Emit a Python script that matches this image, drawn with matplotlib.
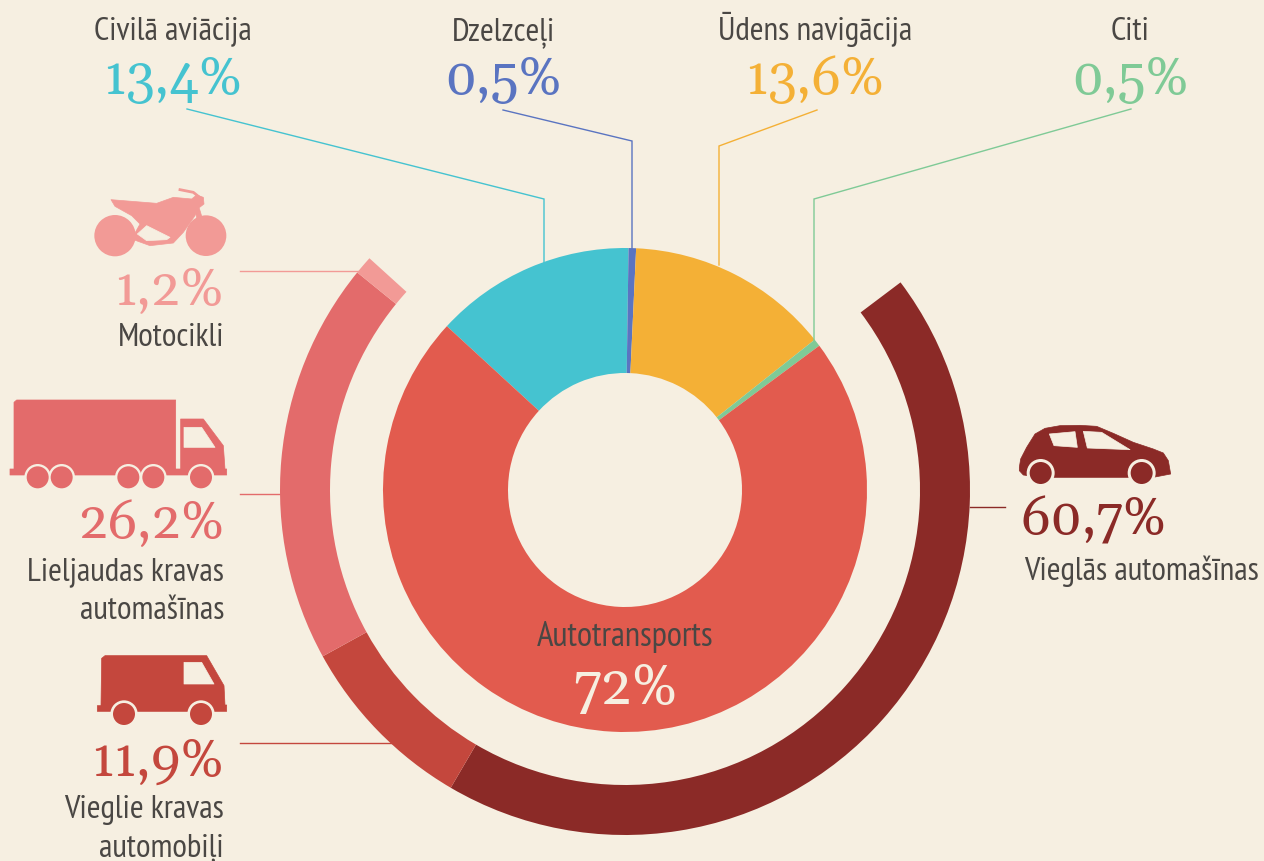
import matplotlib
from matplotlib import pyplot as plt
from matplotlib.patches import Circle, Polygon

matplotlib.use('Agg')

W, H = 1264, 862
BG = '#f6efe1'
DARK = '#4a4744'
NARROW = ['PT Sans Narrow', 'Liberation Sans']
SERIF = ['Gelasio', 'Liberation Serif']

# inner ring, share of all transport
mode_names = ['Civilā aviācija', 'Dzelzceļi', 'Ūdens navigācija', 'Citi', 'Autotransports']
mode_values = [13.4, 0.5, 13.6, 0.5, 72]
mode_colors = ['#45c3d0', '#5a74c1', '#f4b036', '#7fca96', '#e25b4e']

# outer ring, split of the road transport part
road_names = ['Vieglās automašīnas', 'Vieglie kravas\nautomobiļi', 'Lieljaudas kravas\nautomašīnas', 'Motocikli']
road_values = [60.7, 11.9, 26.2, 1.2]
road_colors = ['#8b2a27', '#c4473d', '#e36b6b', '#f29a96']

CX, CY = 625, 491


def fy(y):
    return H - y


def pct(v):
    if v == int(v):
        return f'{int(v)}%'
    return f'{v:.1f}'.replace('.', ',') + '%'


def label(x, y, s, ha='center', size=24):
    ax.text(x, fy(y), s, ha=ha, va='baseline', family=NARROW, fontsize=size, color=DARK, zorder=6)


def number(x, y, s, color, ha='center', size=38):
    ax.text(x, fy(y), s, ha=ha, va='baseline', family=SERIF, fontsize=size, color=color, zorder=6)


def leader(xs, ys, color):
    ax.plot(xs, [fy(y) for y in ys], color=color, lw=1.0, zorder=1, solid_joinstyle='miter')


def icon(points, color, ox, oy, z=3):
    pts = [(ox + x / 3, fy(oy + y / 3)) for x, y in points]
    ax.add_patch(Polygon(pts, closed=True, fc=color, ec=color, lw=0.5, zorder=z, joinstyle='round'))


def wheel(x, y, r, color, ox, oy, ring=0):
    c = (ox + x / 3, fy(oy + y / 3))
    if ring:
        ax.add_patch(Circle(c, ring / 3, fc=BG, ec='none', zorder=4))
    ax.add_patch(Circle(c, r / 3, fc=color, ec='none', zorder=5))


fig = plt.figure(figsize=(W / 100, H / 100), dpi=100, facecolor=BG)
ax = fig.add_axes([0, 0, 1, 1])
ax.set_facecolor(BG)

# inner donut
ax.pie(mode_values, colors=mode_colors, center=(CX, fy(CY)), radius=242, startangle=137.4,
       counterclock=False, frame=True, wedgeprops={'width': 125, 'linewidth': 0})

# outer arc spans the same angle as the road slice of the inner donut
road_span = mode_values[-1]
road_scaled = [v * road_span / sum(road_values) for v in road_values]
gap = sum(mode_values) - road_span
ax.pie(road_scaled + [gap], colors=road_colors + ['none'], center=(CX, fy(CY)), radius=345,
       startangle=90 - 53.0, counterclock=False, frame=True, wedgeprops={'width': 50, 'linewidth': 0})

ax.set_xlim(0, W)
ax.set_ylim(0, H)
ax.set_aspect('equal')
ax.axis('off')

# top labels
top_x = [173, 503, 815, 1130]
for x, name, v, c in zip(top_x, mode_names[:4], mode_values[:4], mode_colors[:4]):
    label(x, 40, name)
    number(x, 94, pct(v), c)

leader([187, 544, 544], [110, 200, 265], mode_colors[0])
leader([503, 632, 632], [111, 142, 250], mode_colors[1])
leader([817, 719, 719], [111, 147, 266], mode_colors[2])
leader([1131, 814, 814], [110, 200, 343], mode_colors[3])

leader([240, 358], [272, 272], road_colors[3])
leader([240, 281], [495, 495], road_colors[2])
leader([240, 392], [744, 744], road_colors[1])
leader([970, 1005], [508, 508], road_colors[0])

# centre of the road slice
label(625, 646, mode_names[4], size=25)
number(625, 704, pct(mode_values[4]), BG, size=40)

# left and right captions
number(224, 304, pct(road_values[3]), road_colors[3], ha='right')
label(224, 346, road_names[3], ha='right')
number(224, 538, pct(road_values[2]), road_colors[2], ha='right')
label(224, 581, 'Lieljaudas kravas', ha='right')
label(224, 619, 'automašīnas', ha='right')
number(224, 776, pct(road_values[1]), road_colors[1], ha='right')
label(224, 818, 'Vieglie kravas', ha='right')
label(224, 856, 'automobiļi', ha='right')
number(1020, 535, pct(road_values[0]), road_colors[0], ha='left')
label(1024, 580, road_names[0], ha='left')

# motorcycle
c = road_colors[3]
icon([(333, 92), (470, 103), (520, 85), (575, 90), (590, 78), (610, 85), (612, 105), (590, 122), (585, 140),
      (550, 190), (520, 222), (450, 230), (395, 210), (420, 165), (395, 140), (345, 112)], c, 0, 170)
icon([(412, 195), (440, 170), (510, 205), (500, 212), (440, 215)], BG, 0, 170, z=4)
icon([(583, 118), (598, 118), (612, 165), (595, 165)], c, 0, 170)
ax.plot([540 / 3, 580 / 3, 605 / 3], [fy(170 + 62 / 3), fy(170 + 70 / 3), fy(170 + 90 / 3)], color=c, lw=2, zorder=3)
wheel(345, 200, 62, c, 0, 170)
wheel(618, 200, 61, c, 0, 170)

# truck
c = road_colors[2]
icon([(42, 700), (50, 693), (527, 693), (527, 900), (42, 900)], c, 0, 170)
icon([(542, 750), (610, 750), (670, 830), (675, 900), (680, 900), (680, 918), (30, 918), (30, 900), (542, 900)], c, 0, 170)
icon([(552, 775), (605, 775), (645, 835), (552, 835)], BG, 0, 170, z=4)
for x in [113, 185, 385, 460, 603]:
    wheel(x, 925, 33, c, 0, 170, ring=40)

# van
c = road_colors[1]
icon([(305, 478), (315, 470), (620, 470), (672, 560), (675, 618), (680, 618), (680, 637), (292, 637),
      (292, 620), (303, 620)], c, 0, 500)
icon([(552, 490), (605, 490), (642, 555), (552, 555)], BG, 0, 500, z=4)
for x in [372, 603]:
    wheel(x, 645, 33, c, 0, 500, ring=41)

# car
c = road_colors[0]
icon([(118, 205), (122, 180), (140, 145), (165, 105), (195, 88), (240, 80), (300, 79), (350, 82), (400, 103),
      (460, 130), (520, 150), (550, 162), (565, 185), (572, 225), (520, 235), (180, 235), (130, 228), (118, 215)],
     c, 980, 400)
icon([(208, 105), (285, 98), (292, 145), (222, 140)], BG, 980, 400, z=4)
icon([(310, 97), (365, 100), (450, 152), (322, 147)], BG, 980, 400, z=4)
for x in [182, 485]:
    wheel(x, 222, 33, c, 980, 400, ring=42)

plt.savefig('out.png', dpi=100, facecolor=BG)
plt.close()
